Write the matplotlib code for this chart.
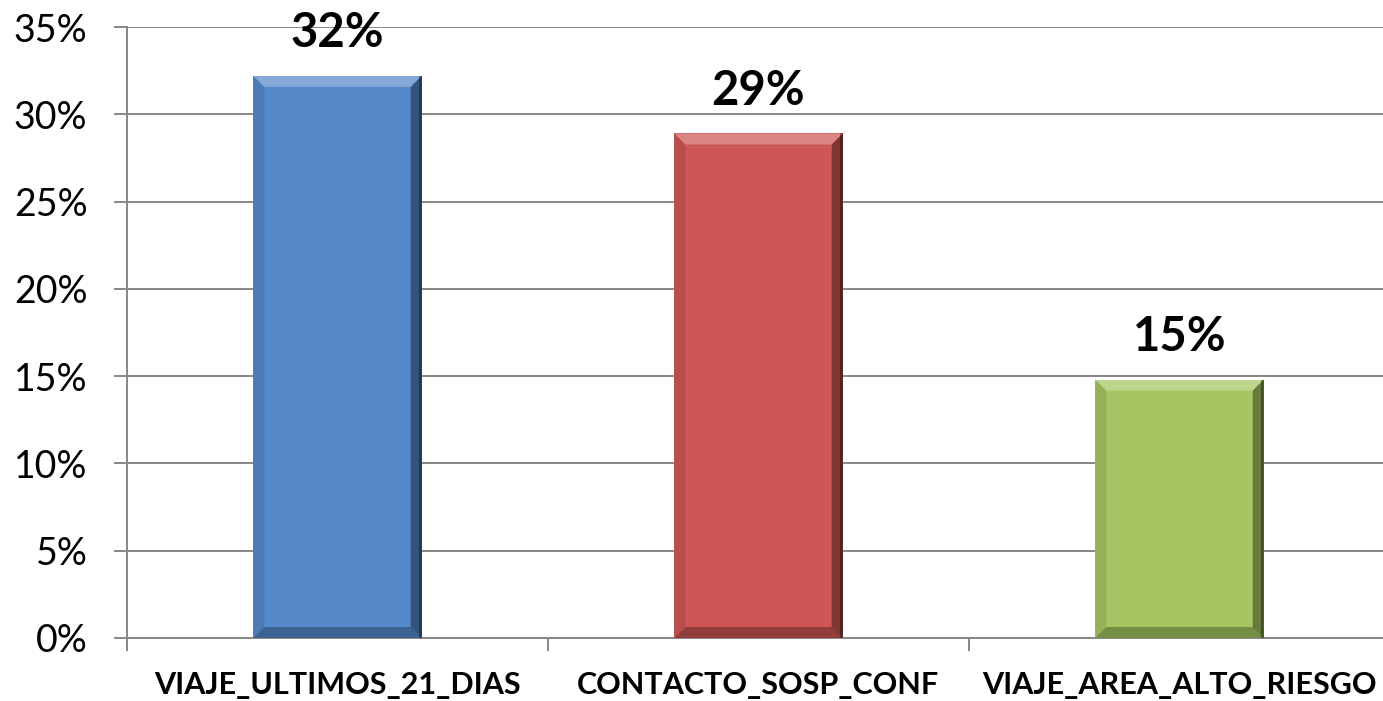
import matplotlib
matplotlib.use("Agg")
import matplotlib.pyplot as plt
from matplotlib.patches import Polygon
from matplotlib.ticker import FuncFormatter, MultipleLocator

categories = ["VIAJE_ULTIMOS_21_DIAS", "CONTACTO_SOSP_CONF", "VIAJE_AREA_ALTO_RIESGO"]
values = [32.2, 28.9, 14.8]
labels = ["32%", "29%", "15%"]
colors = ["#5589CA", "#CD5755", "#A5C562"]

plt.rcParams['font.family'] = ['Lato', 'DejaVu Sans']

W, H = 1383, 701
fig = plt.figure(figsize=(W / 100, H / 100), dpi=100)
ax = fig.add_axes([127 / W, 1 - 638 / H, 1263 / W, 611 / H])

x = list(range(len(categories)))
bars = ax.bar(x, values, width=0.4, color=colors, zorder=3, linewidth=0)
ax.set_xlim(-0.5, 2.5)
ax.set_ylim(0, 35)
ax.yaxis.set_major_locator(MultipleLocator(5))
ax.yaxis.set_major_formatter(FuncFormatter(lambda v, p: f"{v:.0f}%"))
ax.grid(axis='y', color='#878787', linewidth=1.4, zorder=0)
ax.set_axisbelow(True)
for s in ['top', 'right']:
    ax.spines[s].set_visible(False)
for s in ['left', 'bottom']:
    ax.spines[s].set_color('#878787')
    ax.spines[s].set_linewidth(1.4)
ax.tick_params(axis='y', length=9.5, width=1.4, color='#878787', labelsize=27, pad=19)
ax.set_xticks([-0.5, 0.5, 1.5, 2.5])
ax.set_xticklabels([])
ax.tick_params(axis='x', which='major', length=9, width=1.4, color='#878787')
ax.set_xticks(x, minor=True)
ax.set_xticklabels(categories, minor=True, fontsize=22, fontweight='bold')
ax.tick_params(axis='x', which='minor', length=0, pad=24)

for xi, v, lab in zip(x, values, labels):
    ax.annotate(lab, (xi, v), xytext=(0, 15), textcoords='offset points',
                ha='center', va='bottom', fontsize=34, fontweight='bold', zorder=5)

# bevel effect
fig.canvas.draw()
b = 11
for rect in bars:
    (x0, y0), (x1, y1) = ax.transData.transform([(rect.get_x(), 0), (rect.get_x() + rect.get_width(), rect.get_height())])
    top = [(x0, y1), (x1, y1), (x1 - b, y1 - b), (x0 + b, y1 - b)]
    bot = [(x0, y0), (x1, y0), (x1 - b, y0 + b), (x0 + b, y0 + b)]
    left = [(x0, y0), (x0, y1), (x0 + b, y1 - b), (x0 + b, y0 + b)]
    right = [(x1, y0), (x1, y1), (x1 - b, y1 - b), (x1 - b, y0 + b)]
    for poly, fc, a in [(top, 'white', 0.28), (bot, 'black', 0.28), (left, 'black', 0.1), (right, 'black', 0.38)]:
        ax.add_patch(Polygon(poly, closed=True, transform=None, facecolor=fc, alpha=a, linewidth=0, zorder=4))
    ax.add_patch(Polygon([(x1 - 3, y0), (x1, y0), (x1, y1), (x1 - 3, y1)], closed=True, transform=None,
                         facecolor='black', alpha=0.35, linewidth=0, zorder=4))

fig.savefig("out.png", dpi=100)
